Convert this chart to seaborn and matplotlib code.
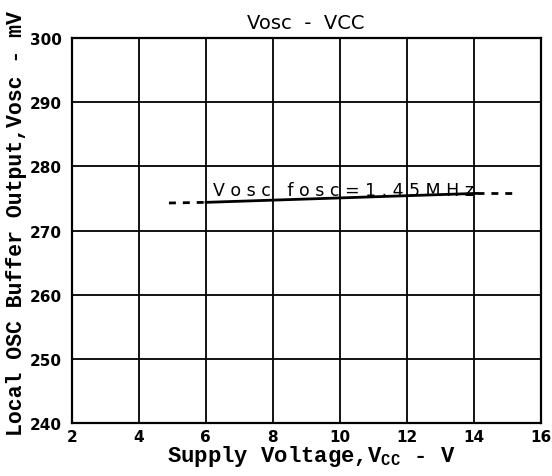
import numpy as np
import pandas as pd
import matplotlib
matplotlib.use("Agg")
import matplotlib.pyplot as plt
import seaborn as sns

# values
solid_vcc = [6.0, 14.1]
solid_vosc = [274.4, 275.8]
dash_left_vcc = [4.9, 6.0]
dash_left_vosc = [274.3, 274.4]
dash_right_vcc = [14.1, 15.3]
dash_right_vosc = [275.8, 275.8]
x_ticks = [2, 4, 6, 8, 10, 12, 14, 16]
y_ticks = [240, 250, 260, 270, 280, 290, 300]

sns.set_theme(style="white")
plt.rcParams['font.family'] = ['DejaVu Sans']
plt.rcParams['text.color'] = 'black'
plt.rcParams['xtick.color'] = 'black'
plt.rcParams['ytick.color'] = 'black'
plt.rcParams['axes.labelcolor'] = 'black'

fig = plt.figure(figsize=(5.52, 4.77), dpi=100)
ax = fig.add_axes([0.130, 0.111, 0.850, 0.807])

solid = pd.DataFrame({"vcc": solid_vcc, "vosc": solid_vosc})
sns.lineplot(data=solid, x="vcc", y="vosc", ax=ax, color="black", linewidth=2.0)
for xs, ys in [(dash_left_vcc, dash_left_vosc), (dash_right_vcc, dash_right_vosc)]:
    seg = pd.DataFrame({"vcc": xs, "vosc": ys})
    sns.lineplot(data=seg, x="vcc", y="vosc", ax=ax, color="black",
                 linewidth=2.0, linestyle=(0, (2.5, 2.5)))

ax.set_xlim(2, 16)
ax.set_ylim(240, 300)
ax.set_xticks(x_ticks)
ax.set_yticks(y_ticks)
ax.set_xticklabels([str(t) for t in x_ticks], fontsize=11, fontweight="bold")
ax.set_yticklabels([str(t) for t in y_ticks], fontsize=11, fontweight="bold")
ax.tick_params(axis="x", length=0, pad=4)
ax.tick_params(axis="y", length=0, pad=7)
ax.grid(True, color="black", linewidth=1.3)
for s in ax.spines.values():
    s.set_color("black")
    s.set_linewidth(1.6)

ax.set_xlabel("Supply Voltage,V$_{\\mathregular{CC}}$ - V", family="Liberation Mono",
              fontsize=16, fontweight="bold", va="baseline")
ax.xaxis.set_label_coords(0.51, -0.099)
ax.set_ylabel("Local OSC Buffer Output,Vosc - mV", family="Liberation Mono",
              fontsize=15.5, fontweight="bold", va="baseline")
ax.yaxis.set_label_coords(-0.107, 0.522)

fig.text(0.553, 0.950, "Vosc  -  VCC", ha="center", va="center", fontsize=14)
ax.text(6.2, 275.6, "V o s c   f o s c = 1 . 4 5 M H z", fontsize=12.5, va="baseline")

fig.savefig("out.png", dpi=100)
